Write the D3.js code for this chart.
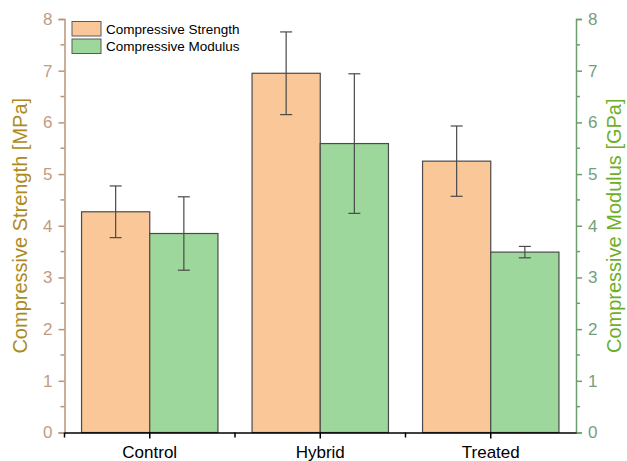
<!DOCTYPE html>
<html>
<head>
<meta charset="utf-8">
<script src="https://cdn.jsdelivr.net/npm/d3@7/dist/d3.min.js"></script>
<style>
  body { margin: 0; background: #fff; }
  svg { display: block; font-family: "Liberation Sans", Arial, sans-serif; }
</style>
</head>
<body>
<svg id="chart" width="627" height="461"></svg>
<script>
// Samples and measured values (mean ± error)
const categories = ["Control", "Hybrid", "Treated"];
const strength = [4.27, 6.95, 5.25];        // MPa
const strengthErr = [0.5, 0.8, 0.68];
const modulus = [3.85, 5.59, 3.49];          // GPa
const modulusErr = [0.71, 1.35, 0.11];
const yTicks = [0, 1, 2, 3, 4, 5, 6, 7, 8];
const seriesNames = ["Compressive Strength", "Compressive Modulus"];

const svg = d3.select("#chart");
const margin = { left: 64.5, right: 51, top: 19, bottom: 28.5 };
const W = 627, H = 461;
const x0 = margin.left, x1 = W - margin.right;
const yBottom = H - margin.bottom, yTop = margin.top;

const colors = { strength: "#FAC898", modulus: "#9ED79C" };

const x = d3.scaleBand().domain(categories).range([x0, x1]).paddingInner(0).paddingOuter(0);
const inner = d3.scaleBand().domain(["s", "m"]).range([0, x.bandwidth() * 0.8]);
const yL = d3.scaleLinear().domain([0, 8]).range([yBottom, yTop]);
const yR = d3.scaleLinear().domain([0, 8]).range([yBottom, yTop]);

const series = [
  { key: "s", vals: strength, errs: strengthErr, fill: colors.strength, scale: yL },
  { key: "m", vals: modulus, errs: modulusErr, fill: colors.modulus, scale: yR }
];

const off = x.bandwidth() * 0.1;

// Bars
series.forEach(s => {
  svg.append("g").selectAll("rect").data(categories).join("rect")
    .attr("x", (c) => x(c) + off + inner(s.key))
    .attr("y", (c, i) => s.scale(s.vals[i]))
    .attr("width", inner.bandwidth())
    .attr("height", (c, i) => yBottom - s.scale(s.vals[i]))
    .attr("fill", s.fill)
    .attr("stroke", "#4a4a4a")
    .attr("stroke-width", 1.2);
});

// Error bars
series.forEach(s => {
  const g = svg.append("g").attr("stroke", "#4a4a4a").attr("stroke-width", 1.2);
  categories.forEach((c, i) => {
    const cx = x(c) + off + inner(s.key) + inner.bandwidth() / 2;
    const hi = s.scale(s.vals[i] + s.errs[i]);
    const lo = s.scale(s.vals[i] - s.errs[i]);
    g.append("line").attr("x1", cx).attr("x2", cx).attr("y1", hi).attr("y2", lo);
    g.append("line").attr("x1", cx - 6).attr("x2", cx + 6).attr("y1", hi).attr("y2", hi);
    g.append("line").attr("x1", cx - 6).attr("x2", cx + 6).attr("y1", lo).attr("y2", lo);
  });
});

// Left axis
const leftColor = "#B8957A";
const gL = svg.append("g").attr("transform", `translate(${x0},0)`)
  .call(d3.axisLeft(yL).tickValues(yTicks).tickFormat(d3.format("d")).tickSize(6).tickPadding(6));
gL.select(".domain").attr("stroke", leftColor).attr("stroke-width", 1.5);
gL.selectAll(".tick line").attr("stroke", leftColor).attr("stroke-width", 1.5);
gL.selectAll(".tick text").attr("fill", "#C29C82").attr("font-size", 17).attr("font-family", "Liberation Sans, Arial, sans-serif");
gL.append("g").selectAll("line").data(d3.range(0.5, 8, 1)).join("line")
  .attr("x1", 0).attr("x2", -4).attr("y1", d => yL(d)).attr("y2", d => yL(d))
  .attr("stroke", leftColor).attr("stroke-width", 1.5);

// Right axis
const rightColor = "#6E9E6E";
const gR = svg.append("g").attr("transform", `translate(${x1},0)`)
  .call(d3.axisRight(yR).tickValues(yTicks).tickFormat(d3.format("d")).tickSize(6).tickPadding(6));
gR.select(".domain").attr("stroke", rightColor).attr("stroke-width", 1.5);
gR.selectAll(".tick line").attr("stroke", rightColor).attr("stroke-width", 1.5);
gR.selectAll(".tick text").attr("fill", "#72A07C").attr("font-size", 17).attr("font-family", "Liberation Sans, Arial, sans-serif");
gR.append("g").selectAll("line").data(d3.range(0.5, 8, 1)).join("line")
  .attr("x1", 0).attr("x2", 4).attr("y1", d => yR(d)).attr("y2", d => yR(d))
  .attr("stroke", rightColor).attr("stroke-width", 1.5);

// Bottom axis
const gB = svg.append("g").attr("transform", `translate(0,${yBottom})`)
  .call(d3.axisBottom(x).tickSize(6).tickPadding(7).tickSizeOuter(0));
gB.select(".domain").attr("stroke", "#000").attr("stroke-width", 1.5);
gB.selectAll(".tick line").attr("stroke", "#000").attr("stroke-width", 1.5);
gB.selectAll(".tick text").attr("fill", "#000").attr("font-size", 17).attr("font-family", "Liberation Sans, Arial, sans-serif");
// boundary ticks between categories
const bounds = categories.map(c => x(c));
gB.append("g").selectAll("line").data(bounds).join("line")
  .attr("x1", d => d).attr("x2", d => d).attr("y1", 0).attr("y2", 5)
  .attr("stroke", "#000").attr("stroke-width", 1.5);

// Axis titles
svg.append("text")
  .attr("transform", `translate(27,${(yTop + yBottom) / 2}) rotate(-90)`)
  .attr("text-anchor", "middle")
  .attr("fill", "#AD8A22").attr("font-size", 20)
  .text("Compressive Strength [MPa]");
svg.append("text")
  .attr("transform", `translate(621,${(yTop + yBottom) / 2}) rotate(-90)`)
  .attr("text-anchor", "middle")
  .attr("fill", "#6DAF2A").attr("font-size", 20)
  .text("Compressive Modulus [GPa]");

// Legend
const legend = svg.append("g").attr("transform", "translate(72,21.5)");
seriesNames.forEach((name, i) => {
  const row = legend.append("g").attr("transform", `translate(0,${i * 17.5})`);
  row.append("rect").attr("width", 29).attr("height", 14.5)
    .attr("fill", i === 0 ? colors.strength : colors.modulus)
    .attr("stroke", "#5a5a5a").attr("stroke-width", 1);
  row.append("text").attr("x", 34).attr("y", 12).attr("font-size", 13.5).attr("fill", "#000").text(name);
});
</script>
</body>
</html>
